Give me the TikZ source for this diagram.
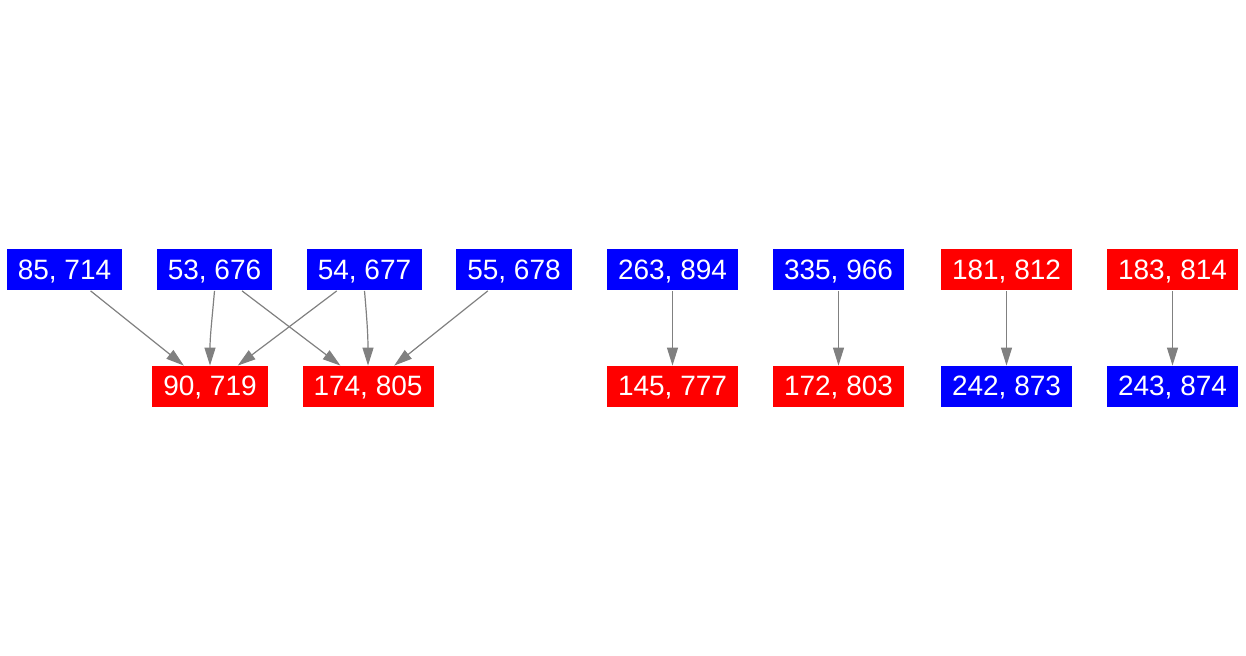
\documentclass[tikz,border=0pt]{standalone}
\usepackage{fontspec}
\setmainfont{Liberation Sans}
\usepackage{xcolor}
\usetikzlibrary{arrows.meta}

\definecolor{cellblue}{HTML}{0000FF}
\definecolor{cellred}{HTML}{FF0000}

\begin{document}
\begin{tikzpicture}[
  x=0.5pt, y=-0.5pt,
  font=\fontsize{14pt}{16pt}\selectfont,
  cell/.style={text=white, inner xsep=5.5pt, inner ysep=0pt,
    minimum height=20.5pt, text height=0.95em, text depth=0pt},
  bluecell/.style={cell, fill=cellblue},
  redcell/.style={cell, fill=cellred},
  link/.style={draw=black!50, line width=0.6pt,
    -{Triangle[length=9pt, width=5.5pt]}},
]
\useasboundingbox (0,0) rectangle (1246,656);

% top row
\node[bluecell] (n85) at (64.5,270) {85, 714};
\node[bluecell] (n53) at (214.5,270) {53, 676};
\node[bluecell] (n54) at (364.5,270) {54, 677};
\node[bluecell] (n55) at (514,270) {55, 678};
\node[bluecell] (n263) at (672.5,270) {263, 894};
\node[bluecell] (n335) at (838.5,270) {335, 966};
\node[redcell] (n181) at (1006.5,270) {181, 812};
\node[redcell] (n183) at (1172.5,270) {183, 814};

% bottom row
\node[redcell] (n90) at (210,386.5) {90, 719};
\node[redcell] (n174) at (368,386.5) {174, 805};
\node[redcell] (n145) at (672.5,386.5) {145, 777};
\node[redcell] (n172) at (838.5,386.5) {172, 803};
\node[bluecell] (n242) at (1006.5,386.5) {242, 873};
\node[bluecell] (n243) at (1172.5,386.5) {243, 874};

\draw[link] (n85) -- (n90);
\draw[link] (n53.south) to[out=-95, in=90] (n90.north);
\draw[link] (n54) -- (n90);
\draw[link] (n53) -- (n174);
\draw[link] (n54.south) to[out=-85, in=90] (n174.north);
\draw[link] (n55) -- (n174);
\draw[link] (n263) -- (n145);
\draw[link] (n335) -- (n172);
\draw[link] (n181) -- (n242);
\draw[link] (n183) -- (n243);

\end{tikzpicture}
\end{document}
